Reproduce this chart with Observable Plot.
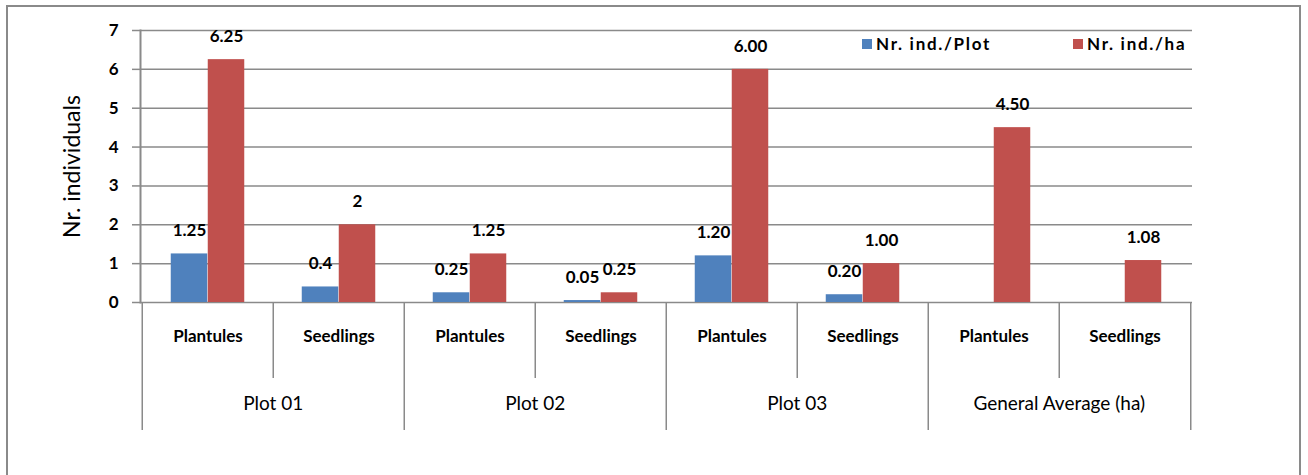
<!DOCTYPE html>
<html>
<head>
<meta charset="utf-8">
<script src="https://cdn.jsdelivr.net/npm/d3@7"></script>
<script src="https://cdn.jsdelivr.net/npm/@observablehq/plot@0.6"></script>
<style>
  html, body { margin: 0; padding: 0; background: #fff; overflow: hidden; }
  #wrap { position: relative; width: 1308px; height: 475px; font-family: Lato, "Open Sans", sans-serif; }
  #border { position: absolute; left: 6px; top: 5px; width: 1295px; height: 480px;
            border: 2px solid #8a8a8a; border-bottom: none; box-sizing: border-box; }
  #chart { position: absolute; left: 0; top: 0; }
  .legend { position: absolute; top: 33px; font-weight: bold; font-size: 17px; letter-spacing: 1.7px;
            display: flex; align-items: center; color: #000; }
  .legend span.sw { width: 10px; height: 10px; display: inline-block; margin-right: 4px; }
</style>
</head>
<body>
<div id="wrap">
  <div id="border"></div>
  <div id="chart"></div>
</div>
<script>
// Groups and life stages along the category axis
const groups = ["Plot 01", "Plot 02", "Plot 03", "General Average (ha)"];
const stages = ["Plantules", "Seedlings"];

// Number of individuals per plot and per hectare, one value per group × stage
const perPlot = [1.25, 0.4, 0.25, 0.05, 1.20, 0.20, null, null];
const perPlotLabels = ["1.25", "0.4", "0.25", "0.05", "1.20", "0.20", null, null];
const perHa = [6.25, 2, 1.25, 0.25, 6.00, 1.00, 4.50, 1.08];
const perHaLabels = ["6.25", "2", "1.25", "0.25", "6.00", "1.00", "4.50", "1.08"];

const seriesNames = ["Nr. ind./Plot", "Nr. ind./ha"];
const seriesColors = ["#4F81BD", "#C0504D"];
const yTicks = [0, 1, 2, 3, 4, 5, 6, 7];
const yLabel = "Nr. individuals";

// One category key per group × stage
const keys = groups.flatMap(g => stages.map(s => `${g}|${s}`));
const stageOf = k => k.split("|")[1];
const groupOf = k => k.split("|")[0];

const rowsPlot = keys.map((k, i) => ({key: k, value: perPlot[i], label: perPlotLabels[i]})).filter(d => d.value != null);
const rowsHa = keys.map((k, i) => ({key: k, value: perHa[i], label: perHaLabels[i]}));

const W = 1308, H = 475;
const mL = 140, mR = 116, mT = 30, mB = 173;
const band = (W - mL - mR) / keys.length;   // width of one category
const barW = 37;                              // width of a single bar
const side = (band - 2 * barW) / 2;          // empty space each side of the pair
const half = band / 2;
const grey = "#8a8a8a";
const font = "Lato, 'Open Sans', sans-serif";

const groupStarts = keys.filter((k, i) => i % stages.length === 0);
const innerSeps = keys.filter((k, i) => i % stages.length !== 0);
const groupSecond = keys.filter((k, i) => i % stages.length === 1);

const chart = Plot.plot({
  width: W,
  height: H,
  marginLeft: mL,
  marginRight: mR,
  marginTop: mT,
  marginBottom: mB,
  style: {fontFamily: font, background: "transparent", overflow: "visible"},
  x: {type: "band", domain: keys, paddingInner: 0, paddingOuter: 0, axis: null},
  y: {domain: [0, 7], axis: null},
  marks: [
    Plot.gridY(yTicks, {stroke: grey, strokeOpacity: 1, strokeWidth: 1.5}),
    Plot.axisY(yTicks, {tickSize: 8, tickPadding: 14, stroke: grey, strokeWidth: 1.5,
      fontSize: 17, fontWeight: "bold", label: null}),
    Plot.text([yLabel], {frameAnchor: "left", textAnchor: "middle", rotate: -90, dx: -68,
      fontSize: 23, letterSpacing: 1.8}),
    // bars
    Plot.barY(rowsPlot, {x: "key", y: "value", fill: seriesColors[0], insetLeft: side, insetRight: side + barW}),
    Plot.barY(rowsHa, {x: "key", y: "value", fill: seriesColors[1], insetLeft: side + barW, insetRight: side}),
    // value labels
    Plot.text(rowsPlot, {x: "key", y: "value", text: "label", dx: -barW / 2, dy: -23,
      fontSize: 17, fontWeight: "bold", letterSpacing: 2.2}),
    Plot.text(rowsHa, {x: "key", y: "value", text: "label", dx: barW / 2, dy: -23,
      fontSize: 17, fontWeight: "bold", letterSpacing: 2.2}),
    Plot.frame({anchor: "left", stroke: grey, strokeWidth: 2}),
    // category axis: stage labels, group labels and separators
    Plot.axisX(keys, {tickSize: 0, tickPadding: 27, tickFormat: stageOf, fontSize: 17,
      fontWeight: "bold", letterSpacing: 2.4, label: null}),
    Plot.axisX(groupSecond, {tickSize: 0, tickPadding: 94, dx: -half, tickFormat: groupOf,
      fontSize: 19, letterSpacing: 1.1, label: null}),
    Plot.axisX(innerSeps, {tickSize: 76, dx: -half, stroke: grey, strokeWidth: 1.5, fill: "none", label: null}),
    Plot.axisX(groupStarts, {tickSize: 128, dx: -half, stroke: grey, strokeWidth: 1.5, fill: "none", label: null}),
    Plot.axisX([keys[keys.length - 1]], {tickSize: 128, dx: half, stroke: grey, strokeWidth: 1.5, fill: "none", label: null})
  ]
});
document.getElementById("chart").appendChild(chart);

// legend
const legendPos = [862, 1073];
seriesNames.forEach((name, i) => {
  const item = document.createElement("div");
  item.className = "legend";
  item.style.left = legendPos[i] + "px";
  item.innerHTML = `<span class="sw" style="background:${seriesColors[i]}"></span>${name}`;
  document.getElementById("wrap").appendChild(item);
});
</script>
</body>
</html>
